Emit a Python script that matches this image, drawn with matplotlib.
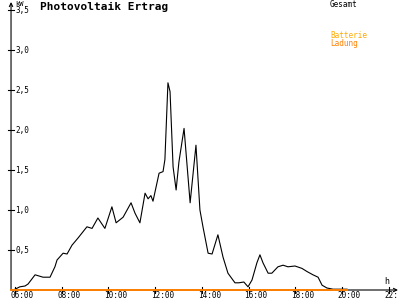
import matplotlib
matplotlib.use("Agg")
import matplotlib.pyplot as plt

# production curve (hour of day, kW)
hours = [6.0, 6.21, 6.43, 6.56, 6.86, 7.2, 7.5, 7.71, 7.8, 8.06, 8.23, 8.44, 8.7,
         9.08, 9.3, 9.55, 9.85, 10.15, 10.33, 10.63, 10.97, 11.14, 11.35, 11.57,
         11.7, 11.82, 11.91, 12.17, 12.34, 12.42, 12.55, 12.64, 12.77, 12.9, 13.02,
         13.24, 13.5, 13.75, 13.92, 14.05, 14.27, 14.44, 14.69, 14.91, 15.12, 15.42,
         15.59, 15.8, 15.98, 16.15, 16.36, 16.49, 16.62, 16.84, 17.0, 17.26, 17.48,
         17.69, 17.99, 18.29, 18.51, 18.76, 18.98, 19.15, 19.36, 19.62, 20.22]
gesamt = [0.01, 0.04, 0.05, 0.075, 0.19, 0.16, 0.16, 0.29, 0.375, 0.46, 0.45, 0.56, 0.65,
          0.79, 0.77, 0.9, 0.77, 1.04, 0.84, 0.91, 1.09, 0.96, 0.84, 1.21,
          1.14, 1.18, 1.11, 1.46, 1.48, 1.63, 2.59, 2.48, 1.54, 1.25, 1.6,
          2.02, 1.09, 1.81, 1.0, 0.79, 0.46, 0.45, 0.69, 0.41, 0.21, 0.09,
          0.09, 0.1, 0.04, 0.125, 0.34, 0.44, 0.34, 0.21, 0.21, 0.29, 0.31,
          0.29, 0.3, 0.27, 0.23, 0.19, 0.16, 0.06, 0.025, 0.01, 0.01]
ladung_hours = [5.83, 20.22]
ladung = [0.0, 0.0]

x_ticks = [6, 8, 10, 12, 14, 16, 18, 20, 22]
x_labels = ["06:00", "08:00", "10:00", "12:00", "14:00", "16:00", "18:00", "20:00", "22:"]
y_ticks = [0.5, 1.0, 1.5, 2.0, 2.5, 3.0, 3.5]
y_labels = ["0,5", "1,0", "1,5", "2,0", "2,5", "3,0", "3,5"]

PX_H = 23.35   # pixels per hour
PX_KW = 80.0   # pixels per kW
X0 = 5.83      # hour where the y axis sits

mono = "DejaVu Sans Mono"
orange = "#ff8000"

fig = plt.figure(figsize=(4, 3), dpi=100)
ax = fig.add_axes([0, 0, 1, 1])
ax.set_axis_off()
ax.set_xlim(6 - 15 / PX_H, 6 + 385 / PX_H)
ax.set_ylim(-10 / PX_KW, 290 / PX_KW)

# axes with arrows
ax.annotate("", xy=(X0, 288 / PX_KW), xytext=(X0, 0),
            arrowprops=dict(arrowstyle="->", lw=0.8, color="black",
                            mutation_scale=6, shrinkA=0, shrinkB=0))
ax.annotate("", xy=(6 + 383 / PX_H, 0), xytext=(X0, 0),
            arrowprops=dict(arrowstyle="->", lw=0.8, color="black",
                            mutation_scale=6, shrinkA=0, shrinkB=0))

for t, lab in zip(x_ticks, x_labels):
    ax.plot([t, t], [-3 / PX_KW, 3 / PX_KW], color="black", lw=0.8)
    ax.text(t - 4 / PX_H, -6 / PX_KW, lab, fontsize=5.5, family=mono,
            ha="left", va="center")

for t, lab in zip(y_ticks, y_labels):
    ax.plot([X0 - 3 / PX_H, X0 + 3 / PX_H], [t, t], color="black", lw=0.8)
    ax.text(X0 + 4 / PX_H, t, lab, fontsize=5.5, family=mono,
            ha="left", va="center")

ax.text(X0 + 4 / PX_H, 286 / PX_KW, "kW", fontsize=5, family=mono,
        ha="left", va="center")
ax.text(6 + 372 / PX_H, 8 / PX_KW, "h", fontsize=6, family=mono,
        ha="center", va="center")

ax.plot(hours, gesamt, color="black", lw=0.8)
ax.plot(ladung_hours, ladung, color=orange, lw=1.4, zorder=3)

ax.text(6 + 25 / PX_H, 283 / PX_KW, "Photovoltaik Ertrag", fontsize=8,
        family=mono, weight="bold", ha="left", va="center")
ax.text(6 + 315 / PX_H, 285.5 / PX_KW, "Gesamt", fontsize=5.5, family=mono,
        ha="left", va="center")
ax.text(6 + 315 / PX_H, 254 / PX_KW, "Batterie", fontsize=5.5, family=mono,
        ha="left", va="center", color="#ffaa00")
ax.text(6 + 315 / PX_H, 246 / PX_KW, "Ladung", fontsize=5.5, family=mono,
        ha="left", va="center", color=orange)

fig.savefig("out.png", dpi=100)
